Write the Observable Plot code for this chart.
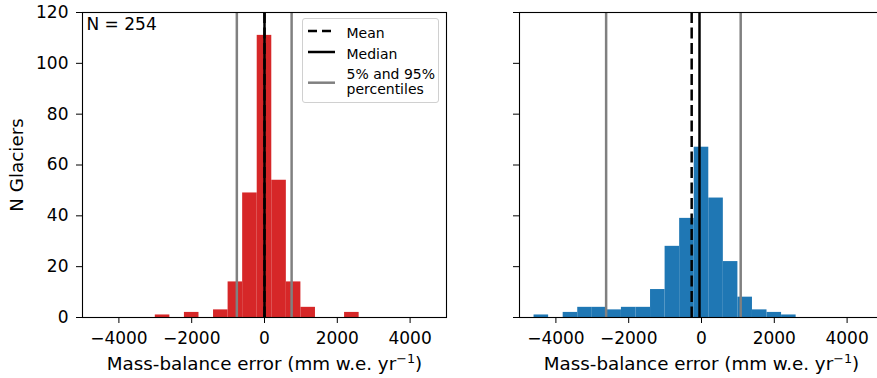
<!DOCTYPE html>
<html><head><meta charset="utf-8">
<script src="https://cdn.jsdelivr.net/npm/d3@7"></script>
<script src="https://cdn.jsdelivr.net/npm/@observablehq/plot@0.6"></script>
<style>
html,body{margin:0;padding:0;background:#fff;}
#wrap{position:relative;width:877px;height:378px;overflow:hidden;font-family:"DejaVu Sans",sans-serif;}
#left,#right{position:absolute;top:0;height:378px;}
#left{left:0;width:460px;}
#right{left:460px;width:438px;}
#wrap svg{max-width:none !important;}
#legend{position:absolute;left:302px;top:18px;width:137px;height:85px;border:1px solid #d0d0d0;border-radius:3px;background:rgba(255,255,255,0.8);box-sizing:border-box;}
#legend svg{position:absolute;left:-1px;top:-1px;}
</style></head><body>
<div id="wrap"><div id="left"></div><div id="right"></div><div id="legend"></div></div>
<script>
// ---- data ----
const BIN_WIDTH = 400;
const leftBinStarts = [-3000, -2200, -1400, -1000, -600, -200, 200, 600, 1000, 2200];
const leftCounts    = [1, 2, 3, 14, 49, 111, 54, 14, 4, 2];
const rightBinStarts = [-4600, -3800, -3400, -3000, -2600, -2200, -1800, -1400, -1000, -600, -200, 200, 600, 1000, 1400, 1800, 2200];
const rightCounts    = [1, 2, 4, 4, 3, 4, 4, 11, 28, 39, 67, 47, 22, 8, 3, 2, 1];
const leftMean = 0, leftMedian = 0, leftPercentiles = [-760, 745];
const rightMean = -270, rightMedian = -55, rightPercentiles = [-2620, 1077];
const xTicks = [-4000, -2000, 0, 2000, 4000];
const yTicks = [0, 20, 40, 60, 80, 100, 120];
const xLabelMain = "Mass-balance error (mm w.e. yr";
const xLabelSup = "\u22121";
const xLabelEnd = ")";
const yLabel = "N Glaciers";
const nLabel = "N = 254";
const legendLabels = ["Mean", "Median", "5% and 95%", "percentiles"];

const FONT = '"DejaVu Sans", sans-serif';
function bins(starts, counts) {
  return starts.map((s, i) => ({x1: s, x2: s + BIN_WIDTH, y: counts[i]}));
}

function panel({data, color, mean, median, pct, width, marginLeft, marginRight, showY}) {
  const marks = [
    Plot.rectY(data, {x1: "x1", x2: "x2", y: "y", fill: color}),
    Plot.ruleX(pct, {stroke: "#808080", strokeWidth: 2.5}),
    Plot.ruleX([mean], {stroke: "black", strokeWidth: 2.5, strokeDasharray: "11,4.5"}),
    Plot.ruleX([median], {stroke: "black", strokeWidth: 2.5}),
    Plot.frame({stroke: "black", strokeWidth: 1.1}),
    Plot.axisX({ticks: xTicks, tickSize: 6, tickPadding: 8, tickFormat: d3.format("d"), label: null, fontSize: 17, stroke: "black"}),
    showY
      ? Plot.axisY({ticks: yTicks, tickSize: 6, tickPadding: 8, label: null, fontSize: 17, stroke: "black"})
      : Plot.axisY({ticks: yTicks, tickSize: 6, tickFormat: () => "", label: null, stroke: "black"}),
    Plot.text([xLabelMain + xLabelSup + xLabelEnd], {text: d => d, frameAnchor: "bottom", textAnchor: "middle", lineAnchor: "middle", dy: 47.1, fontSize: 18.3, fill: "black", className: "xlab"})
  ];
  if (showY) {
    marks.push(Plot.text([yLabel], {text: d => d, frameAnchor: "left", textAnchor: "middle", lineAnchor: "middle", rotate: -90, dx: -65.2, fontSize: 18.3, fill: "black"}));
    marks.push(Plot.text([nLabel], {text: d => d, frameAnchor: "top-left", textAnchor: "start", lineAnchor: "top", dx: 4, dy: 5, fontSize: 17, fill: "black"}));
  }
  const svg = Plot.plot({
    width, height: 378,
    marginTop: 12, marginBottom: 61, marginLeft, marginRight,
    x: {domain: [-5000, 5000]},
    y: {domain: [0, 120]},
    style: {fontFamily: FONT, fontSize: "17px", color: "black", background: "white"},
    marks
  });
  // render the exponent as a real superscript
  svg.querySelectorAll("g.xlab text").forEach(t => {
    t.textContent = "";
    const a = document.createElementNS("http://www.w3.org/2000/svg", "tspan");
    a.textContent = xLabelMain;
    const b = document.createElementNS("http://www.w3.org/2000/svg", "tspan");
    b.textContent = xLabelSup; b.setAttribute("font-size", "70%"); b.setAttribute("dy", "-0.62em");
    const c = document.createElementNS("http://www.w3.org/2000/svg", "tspan");
    c.textContent = xLabelEnd; c.setAttribute("dy", "0.434em");
    t.append(a, b, c);
  });
  return svg;
}

document.getElementById("left").appendChild(panel({
  data: bins(leftBinStarts, leftCounts), color: "#d62728",
  mean: leftMean, median: leftMedian, pct: leftPercentiles,
  width: 460, marginLeft: 82, marginRight: 14, showY: true
}));
document.getElementById("right").appendChild(panel({
  data: bins(rightBinStarts, rightCounts), color: "#1f77b4",
  mean: rightMean, median: rightMedian, pct: rightPercentiles,
  width: 438, marginLeft: 59, marginRight: 15, showY: false
}));

// ---- legend ----
const ns = "http://www.w3.org/2000/svg";
const lg = document.createElementNS(ns, "svg");
lg.setAttribute("width", 137); lg.setAttribute("height", 85);
lg.style.fontFamily = FONT; lg.style.fontSize = "14px";
const items = [
  {y: 13, stroke: "black", dash: "9,5"},
  {y: 34, stroke: "black", dash: null},
  {y: 64.7, stroke: "#808080", dash: null}
];
items.forEach(it => {
  const l = document.createElementNS(ns, "line");
  l.setAttribute("x1", 6); l.setAttribute("x2", 33);
  l.setAttribute("y1", it.y); l.setAttribute("y2", it.y);
  l.setAttribute("stroke", it.stroke); l.setAttribute("stroke-width", 2.5);
  if (it.dash) l.setAttribute("stroke-dasharray", it.dash);
  lg.appendChild(l);
});
[20, 41.3, 60.7, 75.7].forEach((y, i) => {
  const t = document.createElementNS(ns, "text");
  t.setAttribute("x", 44.5); t.setAttribute("y", y);
  t.textContent = legendLabels[i];
  lg.appendChild(t);
});
document.getElementById("legend").appendChild(lg);
</script>
</body></html>
